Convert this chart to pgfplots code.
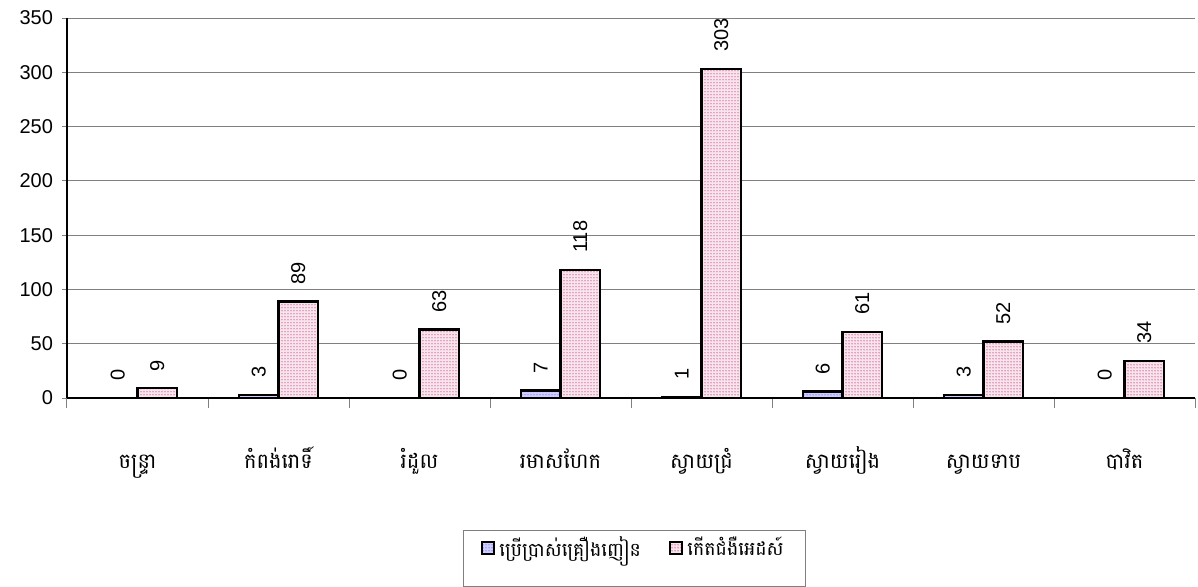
\documentclass[border=0pt]{standalone}
\usepackage{fontspec}
\setmainfont{Liberation Sans}
\newfontfamily\khmer[Script=Khmer]{Battambang}
\usepackage{pgfplots}
\pgfplotsset{compat=1.18}
\usetikzlibrary{patterns.meta}
\definecolor{gridgray}{RGB}{128,128,128}
\definecolor{bluefill}{RGB}{205,205,255}
\definecolor{bluedot}{RGB}{120,120,230}
\definecolor{pinkfill}{RGB}{248,228,236}
\definecolor{pinkdot}{RGB}{200,80,130}
\begin{document}
\begin{tikzpicture}
\begin{axis}[name=ax,
  scale only axis, width=564pt, height=190pt,
  ybar=0pt, bar width=0.28,
  xmin=-0.5, xmax=7.5, ymin=0, ymax=350,
  ytick={0,50,...,350},
  xtick={0,...,7},
  xticklabels={ចន្ទ្រា,កំពង់រោទិ៍,រំដួល,រមាសហែក,ស្វាយជ្រំ,ស្វាយរៀង,ស្វាយទាប,បាវិត},
  minor xtick={-0.5,0.5,...,7.5},
  axis x line*=bottom, axis y line*=left,
  axis line style={black, line width=0.6pt},
  ymajorgrids, grid style={gridgray, line width=0.5pt},
  tick align=outside,
  major x tick style={draw=none},
  minor x tick style={gridgray, line width=0.5pt},
  minor tick length=5pt,
  ytick style={gridgray, line width=0.5pt},
  major tick length=2.5pt,
  /pgf/number format/assume math mode=true,
  yticklabel style={font=\fontsize{10}{11}\selectfont, xshift=-1pt},
  xticklabel style={font=\khmer\fontsize{10.5}{12}\selectfont, anchor=north, text height=9pt, text depth=4pt, yshift=-20pt},
  nodes near coords,
  every node near coord/.append style={font=\fontsize{10}{11}\selectfont, rotate=90, anchor=west, inner xsep=8pt},
  legend columns=2,
  legend image code/.code={\draw[#1, line width=1.2pt] (0pt,-3pt) rectangle (6pt,3pt);},
  legend style={at={(0.503,-0.347)}, anchor=north, draw=gridgray, line width=0.5pt,
    font=\khmer\fontsize{9.5}{11}\selectfont, inner xsep=9pt, inner ysep=1pt,
    /tikz/every even column/.append style={column sep=12pt}},
  clip=false,
]
\addplot[draw=black, line width=1.2pt, fill=bluefill, postaction={pattern={Dots[distance=1.5pt, radius=0.35pt]}, pattern color=bluedot}]
  coordinates {(0,0) (1,3) (2,0) (3,7) (4,1) (5,6) (6,3) (7,0)};
\addlegendentry{ប្រើប្រាស់គ្រឿងញៀន}
\addplot[draw=black, line width=1.2pt, fill=pinkfill, postaction={pattern={Dots[distance=1.5pt, radius=0.35pt]}, pattern color=pinkdot}]
  coordinates {(0,9) (1,89) (2,63) (3,118) (4,303) (5,61) (6,52) (7,34)};
\addlegendentry{កើតជំងឺអេដស៍}
\addlegendimage{empty legend}
\addlegendentry{\fontsize{2}{2}\selectfont\rule{0pt}{5pt}}
\end{axis}
\path ([shift={(-33.5pt,9pt)}]ax.north west) rectangle ([shift={(1.5pt,-93.5pt)}]ax.south east);
\end{tikzpicture}
\end{document}
